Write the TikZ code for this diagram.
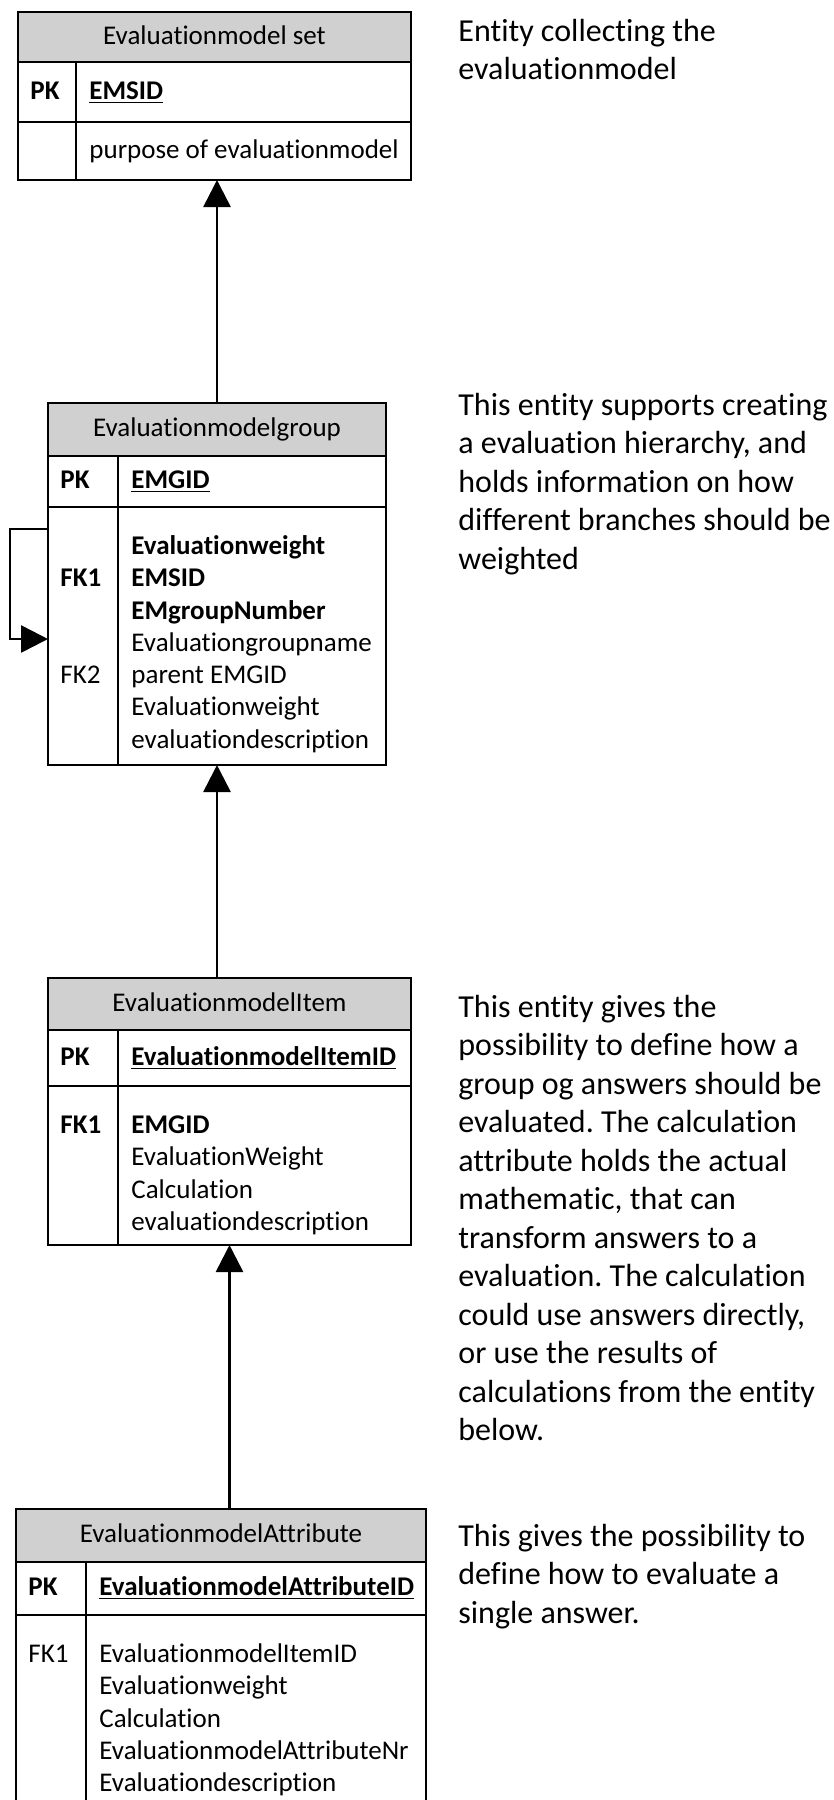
\documentclass[tikz,border=0pt]{standalone}
\usepackage{fontspec}
\setmainfont{Carlito}[Ligatures=NoCommon]
\frenchspacing
\usetikzlibrary{positioning, arrows.meta}
\definecolor{headgray}{RGB}{208,208,208}
\newcommand{\boxfont}{\fontsize{13.5}{16.15}\selectfont}
\newcommand{\descfont}{\fontsize{16}{19.25}\selectfont}
\tikzstyle{cell} = [rectangle, draw=black, line width=1.3pt, outer sep=0pt,
    inner sep=0pt]
\tikzstyle{entityhead} = [cell, fill=headgray, anchor=north west,
    font=\boxfont, text height=9.5pt, text depth=2.5pt]
\tikzstyle{keytext} = [inner sep=0pt, font=\boxfont, text height=9.5pt,
    text depth=2.5pt]
\tikzstyle{attrtext} = [inner sep=0pt, font=\boxfont, align=left]
\tikzstyle{note} = [inner sep=0pt, font=\descfont, align=left, anchor=north west]
\tikzstyle{arrow} = [line width=1.3pt,->,>={Triangle[length=13.5pt,width=13.5pt]}]

\begin{document}
\begin{tikzpicture}[x=0.5pt, y=-0.5pt]
    \useasboundingbox (0,0) rectangle (834,1800);
    % Evaluationmodel set
    \node[entityhead, minimum width=196.5pt, minimum height=25pt] (emsT)
    at (18,12) {Evaluationmodel set};
    \node[cell, below=0pt of emsT.south west, anchor=north west,
    minimum width=29pt, minimum height=30pt] (emsK) {};
    \node[cell, right=0pt of emsK.north east, anchor=north west,
    minimum width=167.5pt, minimum height=30pt] (emsP) {};
    \node[cell, below=0pt of emsK.south west, anchor=north west,
    minimum width=29pt, minimum height=29pt] (emsF) {};
    \node[cell, right=0pt of emsF.north east, anchor=north west,
    minimum width=167.5pt, minimum height=29pt] (emsA) {};
    \node[keytext, right=6pt of emsK.west] (emsPK) {\textbf{PK}};
    \node[keytext, right=6.5pt of emsP.west] (emsID) {\textbf{\underline{EMSID}}};
    \node[keytext, right=6.5pt of emsA.west] (emsAttr) {purpose of evaluationmodel};
    % Evaluationmodelgroup
    \node[entityhead, minimum width=169pt, minimum height=26.5pt] (emgT)
    at (48,403) {Evaluationmodelgroup};
    \node[cell, below=0pt of emgT.south west, anchor=north west,
    minimum width=35pt, minimum height=25.5pt] (emgK) {};
    \node[cell, right=0pt of emgK.north east, anchor=north west,
    minimum width=134pt, minimum height=25.5pt] (emgP) {};
    \node[cell, below=0pt of emgK.south west, anchor=north west,
    minimum width=35pt, minimum height=129pt] (emgF) {};
    \node[cell, right=0pt of emgF.north east, anchor=north west,
    minimum width=134pt, minimum height=129pt] (emgA) {};
    \node[keytext, right=6pt of emgK.west] (emgPK) {\textbf{PK}};
    \node[keytext, right=6.5pt of emgP.west] (emgID) {\textbf{\underline{EMGID}}};
    \node[attrtext, below right=12.2pt and 6pt of emgF.north west] (emgFK)
    {\strut\\\textbf{FK1}\\\strut\\\strut\\FK2};
    \node[attrtext, below right=12.2pt and 6.5pt of emgA.north west] (emgAttr)
    {\strut\textbf{Evaluationweight}\\\textbf{EMSID}\\\textbf{EMgroupNumber}\\
    Evaluationgroupname\\parent EMGID\\Evaluationweight\\evaluationdescription};
    % EvaluationmodelItem
    \node[entityhead, minimum width=181.5pt, minimum height=26pt] (emiT)
    at (48,978) {EvaluationmodelItem};
    \node[cell, below=0pt of emiT.south west, anchor=north west,
    minimum width=35pt, minimum height=28pt] (emiK) {};
    \node[cell, right=0pt of emiK.north east, anchor=north west,
    minimum width=146.5pt, minimum height=28pt] (emiP) {};
    \node[cell, below=0pt of emiK.south west, anchor=north west,
    minimum width=35pt, minimum height=79.5pt] (emiF) {};
    \node[cell, right=0pt of emiF.north east, anchor=north west,
    minimum width=146.5pt, minimum height=79.5pt] (emiA) {};
    \node[keytext, right=6pt of emiK.west] (emiPK) {\textbf{PK}};
    \node[keytext, right=6.5pt of emiP.west] (emiID)
    {\textbf{\underline{EvaluationmodelItemID}}};
    \node[attrtext, below right=12.2pt and 6pt of emiF.north west] (emiFK)
    {\strut\textbf{FK1}};
    \node[attrtext, below right=12.2pt and 6.5pt of emiA.north west] (emiAttr)
    {\strut\textbf{EMGID}\\EvaluationWeight\\Calculation\\evaluationdescription};
    % EvaluationmodelAttribute
    \node[entityhead, minimum width=205pt, minimum height=26.5pt] (emaT)
    at (16,1509) {EvaluationmodelAttribute};
    \node[cell, below=0pt of emaT.south west, anchor=north west,
    minimum width=35pt, minimum height=26.5pt] (emaK) {};
    \node[cell, right=0pt of emaK.north east, anchor=north west,
    minimum width=170pt, minimum height=26.5pt] (emaP) {};
    \node[cell, below=0pt of emaK.south west, anchor=north west,
    minimum width=35pt, minimum height=95pt] (emaF) {};
    \node[cell, right=0pt of emaF.north east, anchor=north west,
    minimum width=170pt, minimum height=95pt] (emaA) {};
    \node[keytext, right=6pt of emaK.west] (emaPK) {\textbf{PK}};
    \node[keytext, right=6.5pt of emaP.west] (emaID)
    {\textbf{\underline{EvaluationmodelAttributeID}}};
    \node[attrtext, below right=12.2pt and 6pt of emaF.north west] (emaFK)
    {\strut FK1};
    \node[attrtext, below right=12.2pt and 6.5pt of emaA.north west] (emaAttr)
    {\strut EvaluationmodelItemID\\Evaluationweight\\Calculation\\
    EvaluationmodelAttributeNr\\Evaluationdescription};
    % Notes
    \node[note] (emsNote) at (458,14) {\strut Entity collecting the\\evaluationmodel};
    \node[note] (emgNote) at (458,388) {\strut This entity supports creating\\
    a evaluation hierarchy, and\\holds information on how\\
    different branches should be\\weighted};
    \node[note] (emiNote) at (458,990) {\strut This entity gives the\\
    possibility to define how a\\group og answers should be\\
    evaluated. The calculation\\attribute holds the actual\\
    mathematic, that can\\transform answers to a\\
    evaluation. The calculation\\could use answers directly,\\
    or use the results of\\calculations from the entity\\below.};
    \node[note] (emaNote) at (458,1519) {\strut This gives the possibility to\\
    define how to evaluate a\\single answer.};
    % Arrows
    \coordinate (loopout) at ([yshift=-11pt]emgF.north west);
    \coordinate (loopin) at ([yshift=-66pt]emgF.north west);
    \draw[arrow] (emgT.north) -- (emgT.north |- emsA.south);
    \draw[arrow] (emiT.north -| emgT.north) -- (emgT.north |- emgA.south);
    \draw[arrow] (emaT.north -| emiT.north) -- (emiT.north |- emiA.south);
    \draw[arrow] (loopout) -- ++(-19pt,0) |- (loopin);
\end{tikzpicture}
\end{document}
